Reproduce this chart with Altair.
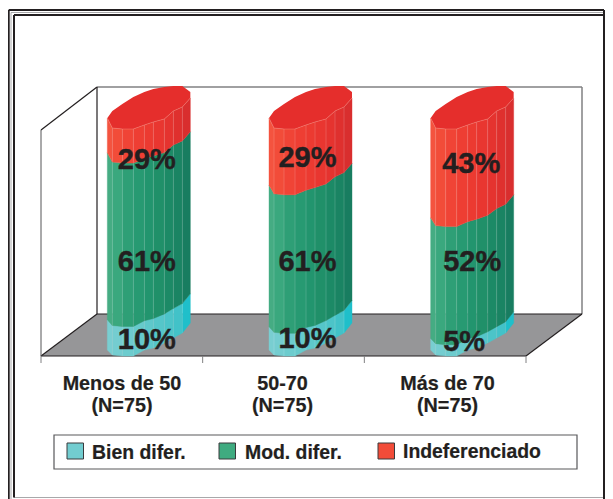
import altair as alt
import pandas as pd

# ---------- chart values ----------
groups = ["Menos de 50", "50-70", "Más de 70"]
group_n = ["(N=75)", "(N=75)", "(N=75)"]
series = ["Bien difer.", "Mod. difer.", "Indeferenciado"]
# heights of the drawn cylinder segments (%), bottom to top
drawn_bien = [13, 10, 5]
drawn_mod = [72, 61, 52]
drawn_ind = [15, 29, 43]
# printed labels
label_bien = ["10%", "10%", "5%"]
label_mod = ["61%", "61%", "52%"]
label_ind = ["29%", "29%", "43%"]

# ---------- 3-D frame layout (image pixels) ----------
FRONT_L, FRONT_R, FRONT_Y = 41, 526, 356
DEPTH_X, DEPTH_Y = 56, 42
WALL_TOP = 87
CYL_BOTTOM, CYL_TOP = 334, 107
STEP = (FRONT_R - FRONT_L) / 3
centres = [FRONT_L + STEP * (i + 0.5) + DEPTH_X / 2 - 1 for i in range(3)]

# outline of the faceted cylinder
prof_x = [-41.5, -36.5, -26.5, -15.5, -4.5, 4.5, 15.5, 24.5, 33.5, 41.5]
prof_top = [11, 21, 22, 22, 18, 15, 12, 4, 0, -9]
prof_bottom = [16, 21, 22, 22, 16, 14, 9, 4, -1, -11]
cap_back = [11, 4, -3, -10, -15, -18, -20, -21, -21, -15]

facet_colors = {
    "Bien difer.": ["#79ced1", "#74cdd0", "#6dccce", "#66cacc", "#5ec8cb", "#55c6c9", "#4cc4c8", "#42c2c8", "#1fbfca"],
    "Mod. difer.": ["#45ac83", "#3aa87e", "#2e9f76", "#279a72", "#22956e", "#209069", "#1c8a66", "#1a8463", "#187d60"],
    "Indeferenciado": ["#f4533f", "#f24c39", "#f04436", "#ee3e33", "#ec3a31", "#e93630", "#e5332f", "#df302e", "#d92e2e"],
}
CAP = "#e52e2c"
INK = "#231f20"
FONT = "Liberation Sans"

# ---------- shared scales: 1 unit = 1 image pixel ----------
XS = alt.Scale(domain=[8, 605], nice=False, zero=False)
YS = alt.Scale(domain=[499, 8], nice=False, zero=False)
X = alt.X("x:Q", scale=XS, axis=None)
Y = alt.Y("y:Q", scale=YS, axis=None)


def edge_y(k, pct):
    bottom = CYL_BOTTOM + prof_bottom[k]
    top = CYL_TOP + prof_top[k]
    return bottom + (top - bottom) * pct / 100


# ---------- cylinder strips ----------
strips, seams, caps = [], [], []
for i, c in enumerate(centres):
    cum = 0
    for name, vals in zip(series, [drawn_bien, drawn_mod, drawn_ind]):
        v = vals[i]
        for f in range(len(prof_x) - 1):
            for k in (f, f + 1):
                strips.append(dict(g=f"{i}-{name}-{f}", x=c + prof_x[k],
                                   y=edge_y(k, cum + v), y2=edge_y(k, cum),
                                   col=facet_colors[name][f]))
        cum += v
    for k in range(1, len(prof_x) - 1):
        seams.append(dict(x=c + prof_x[k], y=edge_y(k, 100), y2=edge_y(k, 0)))
    for k in range(len(prof_x)):
        caps.append(dict(g=i, x=c + prof_x[k], y=CYL_TOP + cap_back[k], y2=CYL_TOP + prof_top[k]))

strip_layer = alt.Chart(pd.DataFrame(strips)).mark_area(strokeWidth=0.4).encode(
    x=X, y=Y, y2="y2:Q", detail="g:N",
    color=alt.Color("col:N", scale=None, legend=None),
    stroke=alt.Stroke("col:N", scale=None, legend=None),
)
seam_layer = alt.Chart(pd.DataFrame(seams)).mark_rule(color="#ffffff", opacity=0.22, strokeWidth=0.8).encode(
    x=X, y=Y, y2="y2:Q")
cap_layer = alt.Chart(pd.DataFrame(caps)).mark_area(color=CAP).encode(
    x=X, y=Y, y2="y2:Q", detail="g:N")
cap_edge = alt.Chart(pd.DataFrame(caps)).mark_line(color="#f7a090", strokeWidth=0.6, opacity=0.6).encode(
    x=X, y=alt.Y("y2:Q", scale=YS, axis=None), detail="g:N")

# ---------- floor & walls ----------
floor = alt.Chart(pd.DataFrame({
    "x": [FRONT_L, FRONT_L + DEPTH_X, FRONT_R, FRONT_R + DEPTH_X],
    "y": [FRONT_Y, FRONT_Y - DEPTH_Y, FRONT_Y - DEPTH_Y, FRONT_Y - DEPTH_Y],
    "y2": [FRONT_Y, FRONT_Y, FRONT_Y, FRONT_Y - DEPTH_Y],
})).mark_area(color="#969698").encode(x=X, y=Y, y2="y2:Q")


def segs(rows, color, width):
    return alt.Chart(pd.DataFrame(rows, columns=["x", "y", "x2", "y2"])).mark_rule(
        color=color, strokeWidth=width).encode(x=X, y=Y, x2="x2:Q", y2="y2:Q")


BL = FRONT_L + DEPTH_X
BR = FRONT_R + DEPTH_X
BY = FRONT_Y - DEPTH_Y
LEFT_TOP = FRONT_Y - 226
walls_grey = segs([(BL, WALL_TOP, BR, WALL_TOP), (BR, WALL_TOP, BR, BY)], "#808082", 1.5)
walls_dark = segs([
    (BL, WALL_TOP, BL, BY),
    (FRONT_L, LEFT_TOP, BL, WALL_TOP),
    (FRONT_L, FRONT_Y, BL, BY),
    (BL, BY, BR, BY),
    (FRONT_R, FRONT_Y, BR, BY),
    (FRONT_L, FRONT_Y, FRONT_R, FRONT_Y),
], INK, 1.2)
wall_left = segs([(FRONT_L, LEFT_TOP, FRONT_L, FRONT_Y)], "#555557", 1.0)
ticks = segs([(FRONT_L + STEP * t, FRONT_Y, FRONT_L + STEP * t, FRONT_Y + 7) for t in range(4)], "#808082", 1.0)

# ---------- outer frame ----------
frame_dark = segs([
    (8.7, 10, 604, 10), (8.7, 10, 8.7, 499), (604, 10, 604, 499),
    (14, 15, 604, 15), (14, 15, 14, 497.5),
], INK, 2)
frame_grey = segs([(11, 12.5, 604, 12.5), (11, 12.5, 11, 499), (14, 497.5, 604, 497.5)], "#a8a8aa", 1)

# ---------- printed values ----------
pct_rows = []
pct_pos_y = {"ind": [160, 158, 164], "mod": [262, 262, 262], "bien": [340, 339, 342]}
pct_dx = {"ind": [-2, -3, -1], "mod": [-2, -3, 0], "bien": [-2, -3, -8]}
for key, labs in (("ind", label_ind), ("mod", label_mod), ("bien", label_bien)):
    for i, t in enumerate(labs):
        pct_rows.append(dict(x=centres[i] + pct_dx[key][i], y=pct_pos_y[key][i], t=t))
pct_layer = alt.Chart(pd.DataFrame(pct_rows)).mark_text(
    font=FONT, fontWeight="bold", fontSize=29, color=INK, stroke=INK, strokeWidth=0.4,
    baseline="middle", align="center"
).encode(x=X, y=Y, text="t:N")

# ---------- category labels ----------
cat_x = [122, 282.5, 447.5]
cat_rows = [dict(x=cat_x[i], y=390, t=groups[i]) for i in range(3)] + \
           [dict(x=cat_x[i], y=412, t=group_n[i]) for i in range(3)]
cat_layer = alt.Chart(pd.DataFrame(cat_rows)).mark_text(
    font=FONT, fontWeight="bold", fontSize=19.8, color=INK, stroke=INK, strokeWidth=0.2,
    baseline="alphabetic", align="center"
).encode(x=X, y=Y, text="t:N")

# ---------- legend ----------
legend_box = alt.Chart(pd.DataFrame([dict(x=54, x2=577, y=435, y2=469)])).mark_rect(
    fill="#ffffff", stroke="#58585a", strokeWidth=1.2).encode(x=X, x2="x2:Q", y=Y, y2="y2:Q")
sw_x = [67, 219, 378]
sw_fill = ["#72cdd0", "#3fab80", "#f24c39"]
legend_sw = alt.Chart(pd.DataFrame([
    dict(x=sw_x[i], x2=sw_x[i] + 16.5, y=443, y2=459, c=sw_fill[i]) for i in range(3)
])).mark_rect(stroke="#3a3a3c", strokeWidth=1).encode(
    x=X, x2="x2:Q", y=Y, y2="y2:Q", color=alt.Color("c:N", scale=None, legend=None))
leg_x = [92, 245, 403]
leg_base = [459, 459, 457.5]
legend_txt = alt.Chart(pd.DataFrame([
    dict(x=leg_x[i], y=leg_base[i], t=series[i]) for i in range(3)
])).mark_text(font=FONT, fontWeight="bold", fontSize=19.4, color=INK, stroke=INK, strokeWidth=0.2,
              align="left", baseline="alphabetic").encode(x=X, y=Y, text="t:N")

chart = alt.layer(
    frame_grey, frame_dark, floor, walls_grey, walls_dark, wall_left, ticks,
    strip_layer, seam_layer, cap_layer, cap_edge, pct_layer, cat_layer,
    legend_box, legend_sw, legend_txt,
).properties(width=597, height=491, padding=0, background="#ffffff",
             autosize=alt.AutoSizeParams(type="none")
).configure_view(stroke=None)

chart.save("out.html", embed_options={"renderer": "svg", "actions": False})
